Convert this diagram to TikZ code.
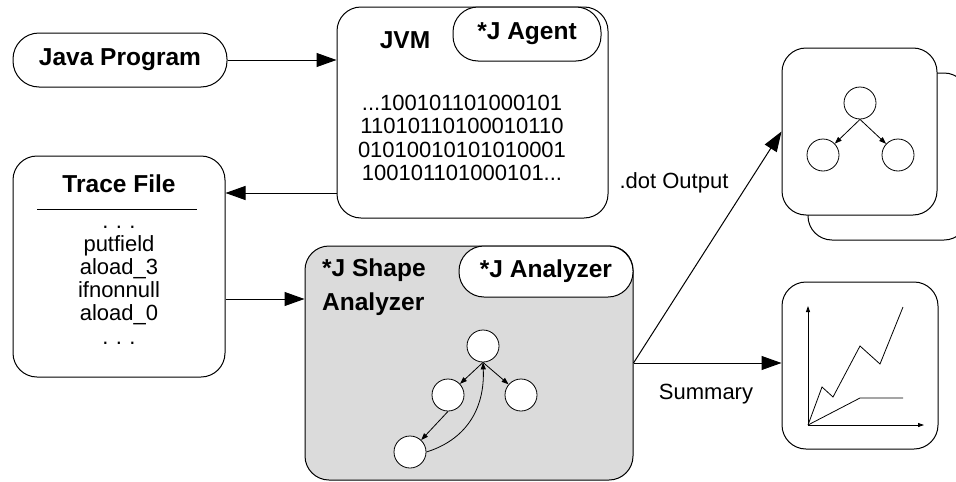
\documentclass[tikz,border=0pt]{standalone}
\usepackage{fontspec}
\setmainfont{Liberation Sans}
\usetikzlibrary{arrows.meta}
\begin{document}
\begin{tikzpicture}[x=1pt,y=-1pt,
  box/.style={draw, line width=1pt, rounded corners=24pt, inner sep=0pt},
  pill/.style={draw, fill=white, line width=1pt, rounded corners=25pt, inner sep=0pt},
  bold/.style={font=\fontsize{24.5}{28}\selectfont\bfseries},
  reg/.style={font=\fontsize{22}{23.4}\selectfont, align=center},
  bigarrow/.style={line width=1pt, -{Triangle[length=20pt,width=14pt]}},
  smallarrow/.style={line width=0.8pt, -{Triangle[length=7pt,width=5pt]}},
  circ/.style={circle, draw, fill=white, minimum size=32pt, inner sep=0pt, line width=0.8pt}]
\clip (0,0) rectangle (956,482);
\fill[white] (0,0) rectangle (956,482);

% Java program
\node[pill, rounded corners=26pt, minimum width=214pt, minimum height=54pt, bold] (java) at (120,60) {Java Program};

% JVM
\node[box, minimum width=271pt, minimum height=211pt] (jvm) at (472.5,112.5) {};
\node[pill, minimum width=148pt, minimum height=54pt, bold] (agent) at (527,34) {*J Agent};
\node[bold] (jvmlabel) at (405,40) {JVM};
\node[reg] (binary) at (462,138) {...100101101000101\\11010110100010110\\01010010101010001\\100101101000101...};

% Trace file
\node[box, minimum width=212pt, minimum height=221pt] (trace) at (119,266.5) {};
\node[bold] (tracetitle) at (119,184) {Trace File};
\draw[line width=1pt] (37,209) -- (197,209);
\node[reg, font=\fontsize{22}{23.2}\selectfont] (tracelist) at (119,285) {.\,\,.\,\,.\\putfield\\aload\_3\\ifnonnull\\aload\_0\\.\,\,.\,\,.};

% Analyzer
\node[box, fill=black!14, minimum width=328pt, minimum height=234pt] (analyzer) at (469,363) {};
\node[pill, minimum width=174pt, minimum height=51pt, bold] (anpill) at (546,271.5) {*J Analyzer};
\node[bold, font=\fontsize{24.5}{34}\selectfont\bfseries, align=left, anchor=west, inner sep=0pt] (anlabel) at (322,287) {*J Shape\\Analyzer};
\node[circ] (t) at (483,346) {};
\node[circ] (l) at (448,395) {};
\node[circ] (r) at (521,395) {};
\node[circ] (b) at (410,452) {};
\draw[smallarrow] (t.south) -- (l);
\draw[smallarrow] (t.south) -- (r);
\draw[smallarrow] (l.south) -- (b);
\draw[smallarrow] (b.east) .. controls (465,440) and (485,410) .. (t.south);

% Connectors
\draw[bigarrow] (java.east) -- (java.east -| jvm.west);
\draw[bigarrow] (jvm.west |- 0,193) -- (trace.east |- 0,193);
\draw[bigarrow] (trace.east |- 0,299) -- (analyzer.west |- 0,299);

% dot output boxes
\node[box, minimum width=160pt, minimum height=167pt] (backbox) at (888,156.5) {};
\node[box, fill=white, minimum width=155pt, minimum height=167pt] (dotbox) at (859.5,131.5) {};
\node[circ] (dt) at (860,103) {};
\node[circ] (dl) at (823,155) {};
\node[circ] (dr) at (898,155) {};
\draw[smallarrow] (dt.south) -- (dl);
\draw[smallarrow] (dt.south) -- (dr);

% chart box
\node[box, minimum width=156pt, minimum height=167pt] (chart) at (860,365.5) {};
\draw[line width=0.8pt, -{Triangle[length=6pt,width=4pt]}] (808,425) -- (808,306);
\draw[line width=0.8pt, -{Triangle[length=6pt,width=4pt]}] (808,425) -- (924,425);
\draw[line width=0.8pt] (808,425) -- (822,387) -- (833,397) -- (860,346) -- (880,364) -- (903,307);
\draw[line width=0.8pt] (808,425) -- (860,398) -- (903,398);

% outputs
\draw[bigarrow] (analyzer.east) -- (dotbox.west);
\draw[bigarrow] (analyzer.east) -- (analyzer.east -| chart.west);
\node[reg] (dotlabel) at (674,183) {.dot Output};
\node[reg] (sumlabel) at (706,394) {Summary};
\end{tikzpicture}
\end{document}
